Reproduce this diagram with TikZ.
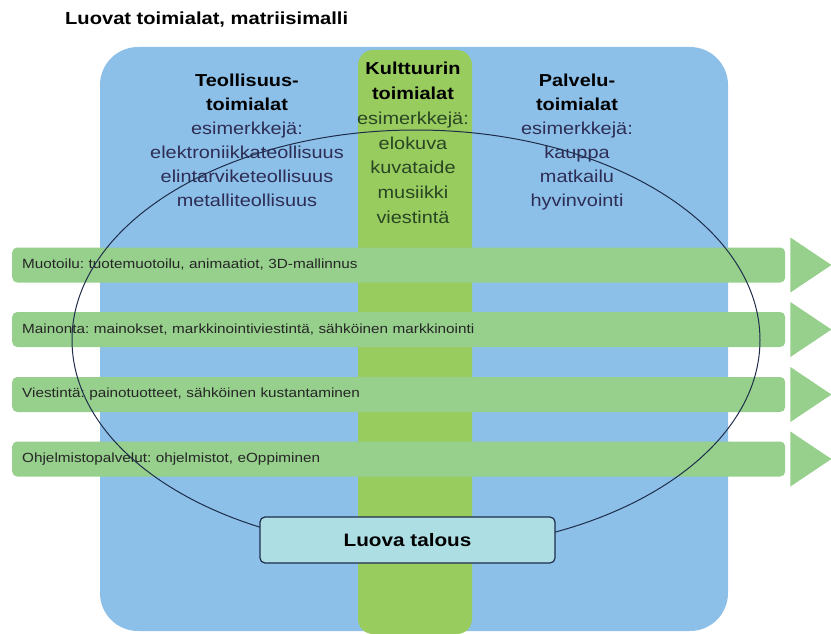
\documentclass[tikz,border=0pt]{standalone}
\usepackage{fontspec}
\setmainfont[FakeStretch=1.15]{Liberation Sans}
\usetikzlibrary{positioning}
\frenchspacing
\definecolor{paneblue}{RGB}{141,192,232}
\definecolor{culturegreen}{RGB}{153,204,95}
\definecolor{bargreen}{RGB}{150,208,140}
\definecolor{boxcyan}{RGB}{172,222,228}
\definecolor{linenavy}{RGB}{30,45,75}
\definecolor{textnavy}{RGB}{45,45,85}
\definecolor{textolive}{RGB}{40,70,35}
\tikzset{
  sector/.style={align=center, anchor=north, inner sep=0pt, text=textnavy,
    font=\fontsize{17.3}{24}\selectfont},
  bar/.style={fill=bargreen, rounded corners=5pt, anchor=west, minimum width=773pt,
    minimum height=35pt, inner xsep=10pt, inner ysep=0pt, text width=753pt, align=left,
    font=\fontsize{13.3}{15}\selectfont, text=black!85},
}
\begin{document}
\begin{tikzpicture}[x=1pt,y=-1pt]
\useasboundingbox (0,0) rectangle (831,634);
% Title
\node[anchor=west, inner sep=0pt, font=\bfseries\fontsize{17.5}{20}\selectfont] (title) at (65,20) {Luovat toimialat, matriisimalli};

% Blue pane and the culture column
\fill[paneblue, rounded corners=38pt] (100,47) rectangle (728,631);
\fill[culturegreen, rounded corners=15pt] (358,50) rectangle (472,634);

% Sector headings
\node[sector] (industry) at (247,74) {\textbf{\color{black}Teollisuus-}\\\textbf{\color{black}toimialat}\\esimerkkejä:\\elektroniikkateollisuus\\elintarviketeollisuus\\metalliteollisuus};
\node[sector, text=textolive, font=\fontsize{17.3}{24.8}\selectfont] (culture) at (413,62) {\textbf{\color{black}Kulttuurin}\\\textbf{\color{black}toimialat}\\esimerkkejä:\\elokuva\\kuvataide\\musiikki\\viestintä};
\node[sector] (service) at (577,74) {\textbf{\color{black}Palvelu-}\\\textbf{\color{black}toimialat}\\esimerkkejä:\\kauppa\\matkailu\\hyvinvointi};

% Cross-cutting bars with detached heads
\foreach \y/\txt [count=\i] in {265/{Muotoilu: tuotemuotoilu, animaatiot, 3D-mallinnus},
    329.5/{Mainonta: mainokset, markkinointiviestintä, sähköinen markkinointi},
    394.5/{Viestintä: painotuotteet, sähköinen kustantaminen},
    459/{Ohjelmistopalvelut: ohjelmistot, eOppiminen}} {
  \node[bar] (bar\i) at (12,\y) {\txt};
  \fill[bargreen] ([xshift=5pt]bar\i.east) ++(0,-27.5) -- ++(41,27.5) -- ++(-41,27.5) -- cycle;
}

% Ellipse round the whole
\draw[linenavy, line width=1pt] (416,340) ellipse [x radius=344pt, y radius=210pt];

% Creative economy box
\node[draw=linenavy, fill=boxcyan, rounded corners=5pt, line width=1.2pt,
  minimum width=295pt, minimum height=46pt,
  font=\bfseries\fontsize{18}{20}\selectfont] (economy) at (407.5,540) {Luova talous};
\end{tikzpicture}
\end{document}
